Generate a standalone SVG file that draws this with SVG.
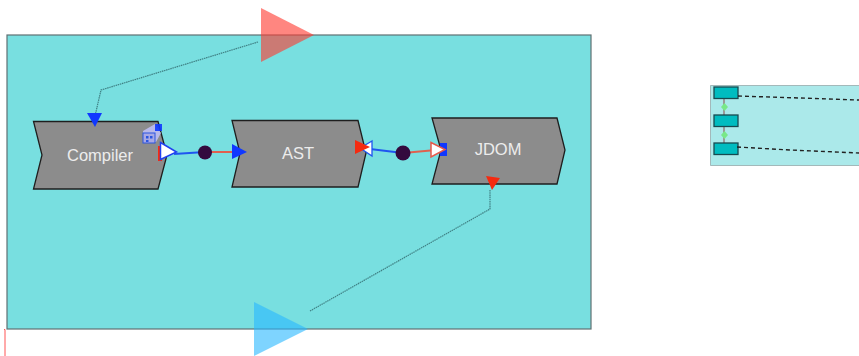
<svg xmlns="http://www.w3.org/2000/svg" width="859" height="356" viewBox="0 0 859 356">
<style>
.block{fill:#8c8c8c;stroke:#1e1e1e;stroke-width:1.300}
.lbl{font-family:"Liberation Sans",Arial,sans-serif;font-size:16.500px;fill:#ececec;text-anchor:middle}
.dot{fill:#330a3e}
.blue{fill:#1038ff}
.red{fill:#f52a10}
.wire-b{stroke:#1f55f0;stroke-width:2;fill:none}
.wire-r{stroke:#e0604f;stroke-width:2;fill:none}
.dotted{stroke:#3f8084;stroke-width:1.200;stroke-dasharray:1.500 .7;fill:none}
.tiny{fill:#00bcc0;stroke:#174a50;stroke-width:1.300}
.link{stroke:#9a9a9a;stroke-width:2;fill:none}
.dia{fill:#78e888}
.dash{stroke:#222;stroke-width:1.400;stroke-dasharray:4 3;fill:none}
</style>
<rect id="canvas" x="7" y="35" width="584" height="294" fill="#78dfe0" stroke="#5f7072" stroke-width="1.200"/>
<path id="corner" d="M4 329.500H5V356" stroke="#f55" stroke-width="1" fill="none"/>
<g id="connectors">
<path class="dotted" d="M258 42L101 90L95 116"/>
<path class="dotted" d="M310 311L490 209V190"/>
<path class="wire-b" d="M174 154L205 152"/>
<path class="wire-r" d="M205 152L236 152"/>
<path class="wire-b" d="M370 149L403 153"/>
<path class="wire-r" d="M403 153L436 150"/>
</g>
<g id="compiler">
<polygon class="block" points="33.500,121.500 158,121.500 167,155 158,189 33.500,189 42,155"/>
<text class="lbl" x="100" y="161">Compiler</text>
<polygon points="87,113 102,113 95,127" class="blue"/>
<g id="compiler-icon">
<polygon points="143,131 155,124 161,133 156,142 143,142" fill="#b9b9ea"/>
<rect x="155" y="124" width="7" height="7" class="blue" opacity=".9"/>
<rect x="143" y="133" width="12" height="10" fill="#a8a8e4" stroke="#2a55e0" stroke-width="1"/>
<rect x="146" y="136" width="2.500" height="2.500" fill="#2a55e0"/>
<rect x="150" y="136" width="2.500" height="2.500" fill="#2a55e0"/>
<rect x="146" y="140" width="2.500" height="2" fill="#2a55e0"/>
</g>
<rect x="158" y="146" width="4" height="15" class="red"/>
<polygon points="160.500,142.500 176.500,152 160.500,159.500" fill="#fff" stroke="#1f40f0" stroke-width="1.500"/>
</g>
<g id="ast">
<polygon class="block" points="232,120.500 358,120.500 366,153 358,187 232,187 240,153"/>
<text class="lbl" x="298" y="159">AST</text>
<polygon points="232,144 247,152 232,159" class="blue"/>
<polygon points="372,141 360,148 372,156" fill="#fff" stroke="#1f55f0" stroke-width="1.300"/>
<polygon points="355,140 370,147 355,154" class="red"/>
</g>
<g id="jdom">
<polygon class="block" points="432,118 557,118 565,150 557,184 432,184 441,150"/>
<text class="lbl" x="498" y="155">JDOM</text>
<rect x="440" y="143" width="7" height="13" class="blue"/>
<polygon points="431,142.500 445,149.500 431,157" fill="#fff" stroke="#e85a4a" stroke-width="1.500"/>
<polygon points="486,176 500,178 492,190" class="red"/>
</g>
<g id="dot-1"><circle class="dot" cx="205" cy="152.500" r="7"/></g>
<g id="dot-2"><circle class="dot" cx="403" cy="153" r="7.500"/></g>
<g id="port-top"><polygon points="261,8 314,35 261,62" fill="#ff3c32" fill-opacity=".62"/></g>
<g id="port-bottom"><polygon points="254,302 308,329 254,356" fill="#28b8ff" fill-opacity=".6"/></g>
<g id="overview">
<rect x="710" y="85.500" width="149" height="80" fill="#abe9ea"/>
<path d="M859 85.500H710.500V165.500H859" fill="none" stroke="#a3b9ba" stroke-width="1"/>
<path class="link" d="M724 99V115M724 127V143"/>
<polygon class="dia" points="724.500,103 728,107 724.500,111 721,107"/>
<polygon class="dia" points="724.500,131 728,135 724.500,139 721,135"/>
<rect class="tiny" x="714" y="87" width="24" height="11.500"/>
<rect class="tiny" x="714" y="115" width="24" height="11.500"/>
<rect class="tiny" x="714" y="143" width="24" height="11.500"/>
<path class="dash" d="M738 96L800 98L859 100"/>
<path class="dash" d="M737 147L790 150L859 153"/>
</g>
</svg>
